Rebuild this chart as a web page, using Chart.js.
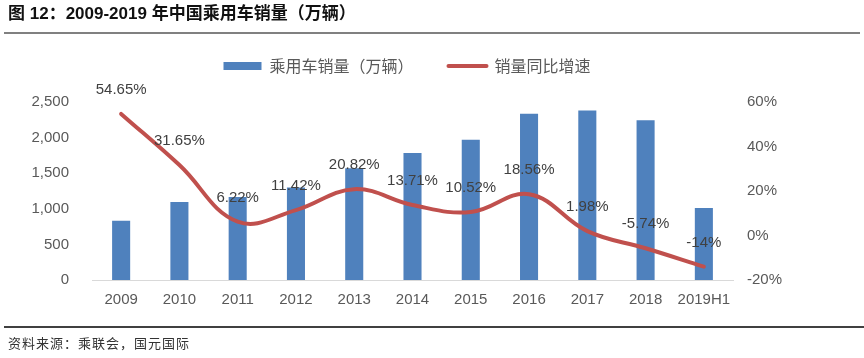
<!DOCTYPE html>
<html>
<head>
<meta charset="utf-8">
<script src="https://cdn.jsdelivr.net/npm/chart.js@4.4.1/dist/chart.umd.min.js"></script>
<style>
  html, body { margin: 0; padding: 0; background: #fff; }
  #wrap { position: relative; width: 864px; height: 358px; overflow: hidden; }
  #chart { position: absolute; left: 0; top: 0; }
  .title {
    position: absolute; left: 8px; top: 4px; z-index: 2;
    font: bold 17px "Liberation Sans", "Noto Sans CJK SC", sans-serif; color: #111;
    line-height: 20px; white-space: nowrap;
  }
  .rule-top { position: absolute; left: 4px; right: 4px; top: 32px; height: 2px; background: #808080; z-index: 2; }
  .rule-bottom { position: absolute; left: 4px; right: 0; top: 326px; height: 2px; background: #404040; z-index: 2; }
  .source {
    position: absolute; left: 8px; top: 334px; z-index: 2;
    font: 13px "Noto Sans CJK SC", sans-serif; color: #333; letter-spacing: 1px;
    line-height: 18px; white-space: nowrap;
  }
</style>
</head>
<body>
<div id="wrap">
  <canvas id="chart" width="864" height="358"></canvas>
  <div class="title">图 12：2009-2019 年中国乘用车销量（万辆）</div>
  <div class="rule-top"></div>
  <div class="rule-bottom"></div>
  <div class="source">资料来源：乘联会，国元国际</div>
</div>
<script>
// data
const years = ['2009', '2010', '2011', '2012', '2013', '2014', '2015', '2016', '2017', '2018', '2019H1'];
const sales = [833, 1097, 1165, 1298, 1568, 1783, 1970, 2336, 2382, 2245, 1012];
const growth = [54.65, 31.65, 6.22, 11.42, 20.82, 13.71, 10.52, 18.56, 1.98, -5.74, -14];
const salesLabel = '乘用车销量（万辆）';
const growthLabel = '销量同比增速';

const BLUE = '#4F81BD';
const RED = '#C0504D';
const TICK = '#595959';

// push the plot area down below the legend
const legendGap = {
  id: 'legendGap',
  beforeInit(chart) {
    const fit = chart.legend.fit;
    chart.legend.fit = function () {
      fit.bind(chart.legend)();
      this.height = 79;
    };
  }
};

// percentage labels above the line points
const pctLabels = {
  id: 'pctLabels',
  afterDatasetsDraw(chart) {
    const meta = chart.getDatasetMeta(1);
    const ctx = chart.ctx;
    ctx.save();
    ctx.font = '15px "Liberation Sans", sans-serif';
    ctx.fillStyle = '#404040';
    ctx.textAlign = 'center';
    ctx.textBaseline = 'middle';
    meta.data.forEach((pt, i) => {
      ctx.fillText(growth[i] + '%', pt.x, pt.y - 24);
    });
    ctx.restore();
  }
};

new Chart(document.getElementById('chart'), {
  type: 'bar',
  data: {
    labels: years,
    datasets: [
      {
        label: salesLabel,
        data: sales,
        backgroundColor: BLUE,
        borderWidth: 0,
        pointStyle: 'rect',
        yAxisID: 'y',
        categoryPercentage: 1,
        barPercentage: 0.31,
        order: 1
      },
      {
        type: 'line',
        label: growthLabel,
        data: growth,
        borderColor: RED,
        backgroundColor: RED,
        borderWidth: 4,
        borderCapStyle: 'round',
        tension: 0.4,
        pointRadius: 0,
        pointStyle: 'line',
        pointBorderWidth: 4,
        pointBorderColor: RED,
        yAxisID: 'y1',
        order: 0
      }
    ]
  },
  options: {
    responsive: false,
    animation: false,
    layout: { padding: { top: 23, left: 0, right: 50, bottom: 38 } },
    plugins: {
      tooltip: { enabled: false },
      legend: {
        position: 'top',
        labels: {
          usePointStyle: true,
          pointStyleWidth: 38,
          boxHeight: 8,
          padding: 35,
          color: TICK,
          font: { family: '"Noto Sans CJK SC", sans-serif', size: 16 },
          generateLabels(chart) {
            const items = Chart.defaults.plugins.legend.labels.generateLabels(chart);
            items.forEach(it => { if (it.datasetIndex === 1) it.lineCap = 'round'; });
            return items.sort((a, b) => a.datasetIndex - b.datasetIndex);
          }
        }
      }
    },
    scales: {
      x: {
        grid: { display: false },
        border: { display: true, color: '#D9D9D9', width: 1 },
        ticks: {
          color: TICK, padding: 3, autoSkip: false, minRotation: 0, maxRotation: 0,
          font: { family: '"Liberation Sans", sans-serif', size: 15 }
        },
        afterFit(s) { s.height = 40; }
      },
      y: {
        position: 'left',
        min: 0, max: 2500,
        grid: { display: false },
        border: { display: false },
        ticks: {
          stepSize: 500, padding: 15, color: TICK,
          font: { family: '"Liberation Sans", sans-serif', size: 15 },
          callback: v => v.toLocaleString('en-US')
        },
        afterFit(s) { s.width = 92; }
      },
      y1: {
        position: 'right',
        min: -20, max: 60,
        grid: { display: false },
        border: { display: false },
        ticks: {
          stepSize: 20, padding: 6, color: TICK,
          font: { family: '"Liberation Sans", sans-serif', size: 15 },
          callback: v => v + '%'
        },
        afterFit(s) { s.width = 81; }
      }
    }
  },
  plugins: [legendGap, pctLabels]
});
</script>
</body>
</html>
